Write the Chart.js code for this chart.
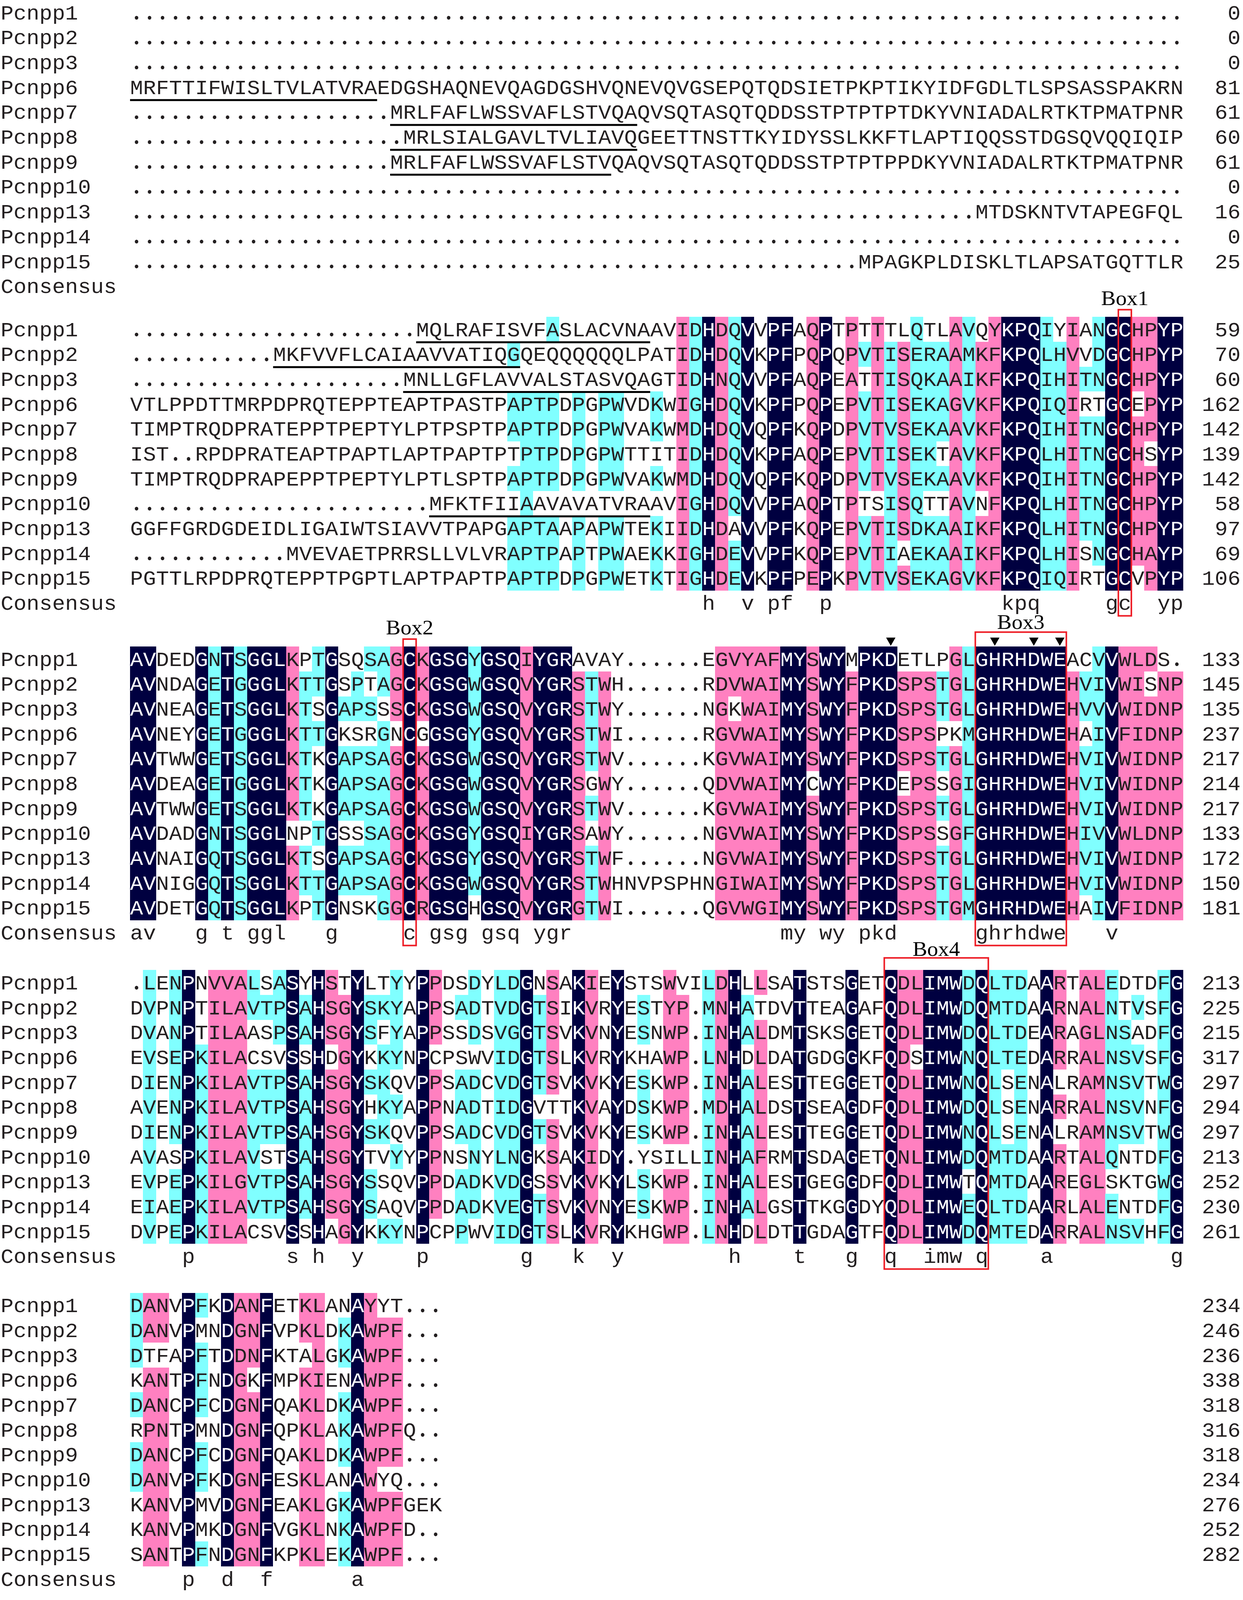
<!DOCTYPE html>
<html>
<head>
<meta charset="utf-8">
<title>Pcnpp alignment</title>
<script src="https://cdn.jsdelivr.net/npm/chart.js@4.4.0/dist/chart.umd.min.js"></script>
<style>
  html, body { margin: 0; padding: 0; background: #ffffff; overflow: hidden; }
  canvas { display: block; }
</style>
</head>
<body>
<canvas id="alignChart"></canvas>
<script>
// gap run helper, n dots
const gap = n => '.'.repeat(n);

// sequence names (one row per block)
const names = ['Pcnpp1', 'Pcnpp2', 'Pcnpp3', 'Pcnpp6', 'Pcnpp7', 'Pcnpp8',
               'Pcnpp9', 'Pcnpp10', 'Pcnpp13', 'Pcnpp14', 'Pcnpp15'];

// block 1 (columns 1-81)
const block1 = [
  gap(81),
  gap(81),
  gap(81),
  'MRFTTIFWISLTVLATVRAEDGSHAQNEVQAGDGSHVQNEVQVGSEPQTQDSIETPKPTIKYIDFGDLTLSPSASSPAKRN',
  gap(20) + 'MRLFAFLWSSVAFLSTVQAQVSQTASQTQDDSSTPTPTPTDKYVNIADALRTKTPMATPNR',
  gap(21) + 'MRLSIALGAVLTVLIAVQGEETTNSTTKYIDYSSLKKFTLAPTIQQSSTDGSQVQQIQIP',
  gap(20) + 'MRLFAFLWSSVAFLSTVQAQVSQTASQTQDDSSTPTPTPPDKYVNIADALRTKTPMATPNR',
  gap(81),
  gap(65) + 'MTDSKNTVTAPEGFQL',
  gap(81),
  gap(56) + 'MPAGKPLDISKLTLAPSATGQTTLR'
];
const ends1 = [0, 0, 0, 81, 61, 60, 61, 0, 16, 0, 25];
const cons1 = [];

// block 2
const block2 = [
  gap(22) + 'MQLRAFISVFASLACVNAAVIDHDQVVPFAQPTPTTTLQTLAVQYKPQIYIANGCHPYP',
  gap(11) + 'MKFVVFLCAIAAVVATIQGQEQQQQQQLPATIDHDQVKPFPQPQPVTISERAAMKFKPQLHVVDGCHPYP',
  gap(21) + 'MNLLGFLAVVALSTASVQAGTIDHNQVVPFAQPEATTISQKAAIKFKPQIHITNGCHPYP',
  'VTLPPDTTMRPDPRQTEPPTEAPTPASTPAPTPDPGPWVDKWIGHDQVKPFPQPEPVTISEKAGVKFKPQIQIRTGCEPYP',
  'TIMPTRQDPRATEPPTPEPTYLPTPSPTPAPTPDPGPWVAKWMDHDQVQPFKQPDPVTVSEKAAVKFKPQIHITNGCHPYP',
  'IST..RPDPRATEAPTPAPTLAPTPAPTPTPTPDPGPWTTITIDHDQVKPFAQPEPVTISEKTAVKFKPQLHITNGCHSYP',
  'TIMPTRQDPRAPEPPTPEPTYLPTLSPTPAPTPDPGPWVAKWMDHDQVQPFKQPDPVTVSEKAAVKFKPQIHITNGCHPYP',
  gap(23) + 'MFKTFIIAAVAVATVRAAVIGHDQVVPFAQPTPTSISQTTAVNFKPQLHITNGCHPYP',
  'GGFFGRDGDEIDLIGAIWTSIAVVTPAPGAPTAAPAPWTEKIIDHDAVVPFKQPEPVTISDKAAIKFKPQLHITNGCHPYP',
  gap(12) + 'MVEVAETPRRSLLVLVRAPTPAPTPWAEKKIGHDEVVPFKQPEPVTIAEKAAIKFKPQLHISNGCHAYP',
  'PGTTLRPDPRQTEPPTPGPTLAPTPAPTPAPTPDPGPWETKTIGHDEVKPFPEPKPVTVSEKAGVKFKPQIQIRTGCVPYP'
];
const ends2 = [59, 70, 60, 162, 142, 139, 142, 58, 97, 69, 106];
const cons2 = [[45, 'h'], [48, 'v'], [50, 'pf'], [54, 'p'], [68, 'kpq'], [76, 'gc'], [80, 'yp']];

// block 3
const block3 = [
  'AVDEDGNTSGGLKPTGSQSAGCKGSGYGSQIYGRAVAY......EGVYAFMYSWYMPKDETLPGLGHRHDWEACVVWLDS.',
  'AVNDAGETGGGLKTTGSPTAGCKGSGWGSQVYGRSTWH......RDVWAIMYSWYFPKDSPSTGLGHRHDWEHVIVWISNP',
  'AVNEAGETSGGLKTSGAPSSSCKGSGWGSQVYGRSTWY......NGKWAIMYSWYFPKDSPSTGLGHRHDWEHVVVWIDNP',
  'AVNEYGETGGGLKTTGKSRGNCGGSGYGSQVYGRSTWI......RGVWAIMYSWYFPKDSPSPKMGHRHDWEHAIVFIDNP',
  'AVTWWGETSGGLKTKGAPSAGCKGSGWGSQVYGRSTWV......KGVWAIMYSWYFPKDSPSTGLGHRHDWEHVIVWIDNP',
  'AVDEAGETGGGLKTKGAPSAGCKGSGWGSQVYGRSGWY......QDVWAIMYCWYFPKDEPSSGIGHRHDWEHVIVWIDNP',
  'AVTWWGETSGGLKTKGAPSAGCKGSGWGSQVYGRSTWV......KGVWAIMYSWYFPKDSPSTGLGHRHDWEHVIVWIDNP',
  'AVDADGNTSGGLNPTGSSSAGCKGSGYGSQIYGRSAWY......NGVWAIMYSWYFPKDSPSSGFGHRHDWEHIVVWLDNP',
  'AVNAIGQTSGGLKTSGAPSAGCKGSGYGSQVYGRSTWF......NGVWAIMYSWYFPKDSPSTGLGHRHDWEHVIVWIDNP',
  'AVNIGGQTSGGLKTTGAPSAGCKGSGWGSQVYGRSTWHNVPSPHNGIWAIMYSWYFPKDSPSTGLGHRHDWEHVIVWIDNP',
  'AVDETGQTSGGLKPTGNSKGGCRGSGHGSQVYGRGTWI......QGVWGIMYSWYFPKDSPSTGMGHRHDWEHAIVFIDNP'
];
const ends3 = [133, 145, 135, 237, 217, 214, 217, 133, 172, 150, 181];
const cons3 = [[1, 'av'], [6, 'g'], [8, 't'], [10, 'ggl'], [16, 'g'], [22, 'c'], [24, 'gsg'],
               [28, 'gsq'], [32, 'ygr'], [51, 'my'], [54, 'wy'], [57, 'pkd'], [66, 'ghrhdwe'], [76, 'v']];

// block 4
const block4 = [
  '.LENPNVVALSASYHSTYLTYYPPDSDYLDGNSAKIEYSTSWVILDHLLSATSTSGETQDLIMWDQLTDAARTALEDTDFG',
  'DVPNPTILAVTPSAHSGYSKYAPPSADTVDGTSIKVRYESTYP.MNHATDVTTEAGAFQDLIMWDQMTDAARNALNTVSFG',
  'DVANPTILAASPSAHSGYSFYAPPSSDSVGGTSVKVNYESNWP.INHALDMTSKSGETQDLIMWDQLTDEARAGLNSADFG',
  'EVSEPKILACSVSSHDGYKKYNPCPSWVIDGTSLKVRYKHAWP.LNHDLDATGDGGKFQDSIMWNQLTEDARRALNSVSFG',
  'DIENPKILAVTPSAHSGYSKQVPPSADCVDGTSVKVKYESKWP.INHALESTTEGGETQDLIMWNQLSENALRAMNSVTWG',
  'AVENPKILAVTPSAHSGYHKYAPPNADTIDGVTTKVAYDSKWP.MDHALDSTSEAGDFQDLIMWDQLSENARRALNSVNFG',
  'DIENPKILAVTPSAHSGYSKQVPPSADCVDGTSVKVKYESKWP.INHALESTTEGGETQDLIMWNQLSENALRAMNSVTWG',
  'AVASPKILAVSTSAHSGYTVYYPPNSNYLNGKSAKIDY.YSILLINHAFRMTSDAGETQNLIMWDQMTDAARTALQNTDFG',
  'EVPEPKILGVTPSAHSGYSSQVPPDADKVDGSSVKVKYLSKWP.INHALESTGEGGDFQDLIMWTQMTDAAREGLSKTGWG',
  'EIAEPKILAVTPSAHSGYSAQVPPDADKVEGTSVKVNYESKWP.INHALGSTTKGGDYQDLIMWEQLTDAARLALENTDFG',
  'DVPEPKILACSVSSHAGYKKYNPCPPWVIDGTSLKVRYKHGWP.LNHDLDTTGDAGTFQDLIMWDQMTEDARRALNSVHFG'
];
const ends4 = [213, 225, 215, 317, 297, 294, 297, 213, 252, 230, 261];
const cons4 = [[5, 'p'], [13, 's'], [15, 'h'], [18, 'y'], [23, 'p'], [31, 'g'], [35, 'k'], [38, 'y'],
               [47, 'h'], [52, 't'], [56, 'g'], [59, 'q'], [62, 'imw'], [66, 'q'], [71, 'a'], [81, 'g']];

// block 5 (last, 24 columns)
const block5 = [
  'DANVPFKDANFETKLANAYYT...',
  'DANVPMNDGNFVPKLDKAWPF...',
  'DTFAPFTDDNFKTALGKAWPF...',
  'KANTPFNDGKFMPKIENAWPF...',
  'DANCPFCDGNFQAKLDKAWPF...',
  'RPNTPMNDGNFQPKLAKAWPFQ..',
  'DANCPFCDGNFQAKLDKAWPF...',
  'DANVPFKDGNFESKLANAWYQ...',
  'KANVPMVDGNFEAKLGKAWPFGEK',
  'KANVPMKDGNFVGKLNKAWPFD..',
  'SANTPFNDGNFKPKLEKAWPF...'
];
const ends5 = [234, 246, 236, 338, 318, 316, 318, 234, 276, 252, 282];
const cons5 = [[5, 'p'], [8, 'd'], [11, 'f'], [18, 'a']];

// signal peptides underlined: [block, row, first col, last col]
const underlines = [[0, 3, 1, 19], [0, 4, 21, 39], [0, 5, 21, 39], [0, 6, 21, 37],
                    [1, 0, 23, 40], [1, 1, 12, 30], [1, 2, 22, 40], [1, 7, 24, 40]];

// boxed motifs
const motifs = [
  { label: 'Box1', block: 1, from: 77, to: 77 },
  { label: 'Box2', block: 2, from: 22, to: 22 },
  { label: 'Box3', block: 2, from: 66, to: 72 },
  { label: 'Box4', block: 3, from: 59, to: 66 }
];
// marked residues (triangles) in block 3
const arrowCols = [59, 67, 70, 72];

const blocks = [block1, block2, block3, block4, block5];
const ends = [ends1, ends2, ends3, ends4, ends5];
const consensus = [cons1, cons2, cons3, cons4, cons5];

// ---- layout (px of the 3183 x 4278 picture) ----
const W = 3183, H = 4278;
const COL = 33.3, ROW = 66.5, LEFT = 333;         // column pitch, row pitch, first residue column
const blockTop = [0.504, 13.241, 26.496, 39.504, 52.481]; // centre of first row, in row units
const numX = 85.4;                                 // right edge of the position numbers
const motifTop = [-0.79, -0.8, -1.08, -0.99];      // box tops, rows from first row centre
const motifLabel = [-1.26, -1.28, -1.49, -1.35];

const NAVY = '#000040', PINK = '#ff80c0', CYAN = '#80ffff', INK = '#231f20';
const fills = [null, CYAN, PINK, NAVY];
const MONO = '55px "Liberation Mono", "DejaVu Sans Mono", monospace';
const SERIF = '56px "Liberation Serif", "DejaVu Serif", serif';

// residues counted as alike when colouring a column
const alikeGroups = ['ILVM', 'ILF', 'FWY', 'DENQ', 'AGP', 'GS', 'DG', 'HQ', 'KR'];
function alike(a, b) {
  return a === b || alikeGroups.some(g => g.includes(a) && g.includes(b));
}

// conservation level of each column: 3 = 100%, 2 = >=75%, 1 = >=50%
function columnLevels(rows) {
  const width = Math.max(...rows.map(r => r.length));
  const out = [];
  for (let c = 0; c < width; c++) {
    const counts = {};
    rows.forEach(r => {
      const ch = r[c];
      if (ch && ch !== '.') counts[ch] = (counts[ch] || 0) + 1;
    });
    let best = null, n = 0;
    for (const k in counts) if (counts[k] > n) { best = k; n = counts[k]; }
    const f = n / rows.length;
    out.push({ best, lvl: n === rows.length ? 3 : f >= 0.75 ? 2 : f >= 0.5 ? 1 : 0 });
  }
  return out;
}

// ---- build point sets ----
const residuePts = [], namePts = [], endPts = [], consPts = [];
blocks.forEach((rows, b) => {
  const levels = columnLevels(rows);
  rows.forEach((seq, i) => {
    const y = blockTop[b] + i;
    for (let c = 0; c < seq.length; c++) {
      const ch = seq[c];
      const col = levels[c];
      const lvl = (ch !== '.' && col.lvl && alike(ch, col.best)) ? col.lvl : 0;
      residuePts.push({ x: c + 0.5, y, ch, lvl });
    }
    namePts.push({ x: -LEFT / COL + 0.05, y, text: names[i] });
    endPts.push({ x: numX, y, text: String(ends[b][i]) });
  });
  const cy = blockTop[b] + rows.length;
  namePts.push({ x: -LEFT / COL + 0.05, y: cy, text: 'Consensus' });
  consensus[b].forEach(([c, s]) => {
    for (let k = 0; k < s.length; k++) consPts.push({ x: c + k - 0.5, y: cy, text: s[k] });
  });
});

// the window may be shorter than the picture: squeeze vertically to fit
const canvas = document.getElementById('alignChart');
canvas.width = window.innerWidth || W;
canvas.height = window.innerHeight || H;
const squeeze = canvas.height / H;

// text centred on its row, glyphs squeezed like the rows
function putText(ctx, s, px, py, capUp) {
  ctx.save();
  ctx.translate(px, py);
  ctx.scale(1, squeeze);
  ctx.fillText(s, 0, capUp);
  ctx.restore();
}

const alignmentPlugin = {
  id: 'alignment',
  beforeDraw(chart) {
    const ctx = chart.ctx;
    ctx.save();
    ctx.fillStyle = '#ffffff';
    ctx.fillRect(0, 0, chart.width, chart.height);
    ctx.restore();
  },
  afterDatasetsDraw(chart) {
    const { ctx, scales: { x, y } } = chart;
    const cw = x.getPixelForValue(1) - x.getPixelForValue(0);
    const rh = y.getPixelForValue(1) - y.getPixelForValue(0);
    ctx.save();
    ctx.font = MONO;
    const capUp = ctx.measureText('H').actualBoundingBoxAscent / 2;

    // cell backgrounds
    const cellMeta = chart.getDatasetMeta(0);
    const cellData = chart.data.datasets[0].data;
    cellMeta.data.forEach((pt, k) => {
      const d = cellData[k];
      if (!d.lvl) return;
      const x0 = Math.round(pt.x - cw / 2), x1 = Math.round(pt.x + cw / 2);
      const y0 = Math.round(pt.y - rh / 2), y1 = Math.round(pt.y + rh / 2);
      ctx.fillStyle = fills[d.lvl];
      ctx.fillRect(x0, y0, x1 - x0, y1 - y0);
    });

    // residue letters, gaps as round dots
    ctx.textAlign = 'center';
    ctx.textBaseline = 'alphabetic';
    cellMeta.data.forEach((pt, k) => {
      const d = cellData[k];
      if (d.ch === '.') {
        const base = pt.y + capUp * squeeze;
        ctx.fillStyle = INK;
        ctx.beginPath();
        ctx.ellipse(pt.x, base - 4.5 * squeeze, 4.5, 5 * squeeze, 0, 0, Math.PI * 2);
        ctx.fill();
        return;
      }
      ctx.fillStyle = d.lvl === 3 ? '#ffffff' : INK;
      putText(ctx, d.ch, pt.x, pt.y, capUp);
    });

    // names, numbers, consensus
    ctx.fillStyle = INK;
    const textSet = (i, align) => {
      ctx.textAlign = align;
      chart.getDatasetMeta(i).data.forEach((pt, k) => {
        putText(ctx, chart.data.datasets[i].data[k].text, pt.x, pt.y, capUp);
      });
    };
    textSet(1, 'left');
    textSet(2, 'right');
    textSet(3, 'center');

    // signal peptide underlines
    ctx.fillStyle = '#000000';
    underlines.forEach(([b, r, c0, c1]) => {
      const ly = y.getPixelForValue(blockTop[b] + r + 0.52);
      const lx0 = x.getPixelForValue(c0 - 1), lx1 = x.getPixelForValue(c1);
      ctx.fillRect(lx0, ly - 2.5, lx1 - lx0, 5);
    });

    // triangles above marked residues
    arrowCols.forEach(c => {
      const cx = x.getPixelForValue(c - 0.5);
      const top = y.getPixelForValue(blockTop[2] - 0.86);
      const tip = y.getPixelForValue(blockTop[2] - 0.53);
      ctx.beginPath();
      ctx.moveTo(cx - 12, top);
      ctx.lineTo(cx + 12, top);
      ctx.lineTo(cx, tip);
      ctx.closePath();
      ctx.fill();
    });

    // motif boxes and labels
    ctx.strokeStyle = '#ee1c25';
    ctx.lineWidth = 4;
    motifs.forEach((m, k) => {
      const bx0 = x.getPixelForValue(m.from - 1), bx1 = x.getPixelForValue(m.to);
      const by0 = y.getPixelForValue(blockTop[m.block] + motifTop[k]);
      const by1 = y.getPixelForValue(blockTop[m.block] + 11 + 0.52);
      ctx.strokeRect(bx0, by0, bx1 - bx0, by1 - by0);
    });
    ctx.font = SERIF;
    ctx.fillStyle = '#000000';
    ctx.textAlign = 'center';
    const serifUp = ctx.measureText('B').actualBoundingBoxAscent / 2;
    motifs.forEach((m, k) => {
      const lx = x.getPixelForValue((m.from - 1 + m.to) / 2);
      const ly = y.getPixelForValue(blockTop[m.block] + motifLabel[k]);
      putText(ctx, m.label, lx, ly, serifUp);
    });
    ctx.restore();
  }
};

const hidden = { pointRadius: 0, pointHoverRadius: 0, showLine: false };
new Chart(canvas, {
  type: 'scatter',
  data: {
    datasets: [
      { label: 'residues', data: residuePts, ...hidden },
      { label: 'names', data: namePts, ...hidden },
      { label: 'positions', data: endPts, ...hidden },
      { label: 'consensus', data: consPts, ...hidden }
    ]
  },
  options: {
    responsive: false,
    animation: false,
    devicePixelRatio: 1,
    events: [],
    layout: { padding: 0 },
    plugins: { legend: { display: false }, tooltip: { enabled: false } },
    scales: {
      x: { type: 'linear', display: false, min: -LEFT / COL, max: -LEFT / COL + W / COL },
      y: { type: 'linear', display: false, reverse: true, min: 0, max: H / ROW }
    }
  },
  plugins: [alignmentPlugin]
});
</script>
</body>
</html>
